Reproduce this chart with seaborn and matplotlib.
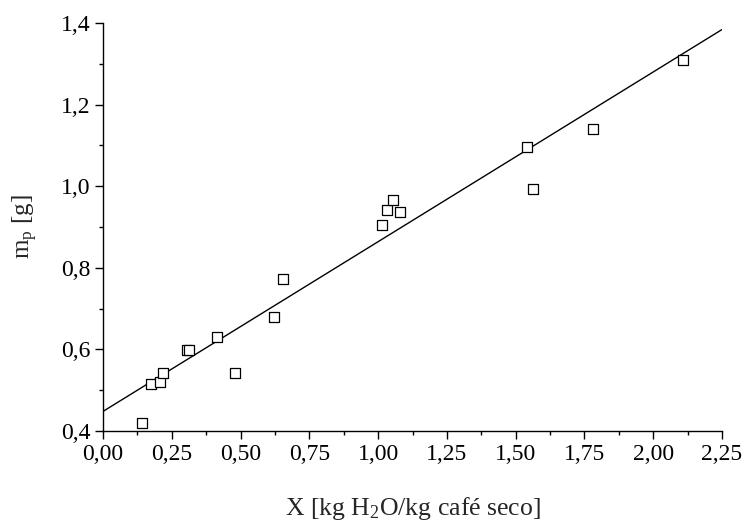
import matplotlib
matplotlib.use("Agg")
import matplotlib.pyplot as plt
from matplotlib.ticker import MultipleLocator, FuncFormatter
import seaborn as sns
import pandas as pd

# Data
x_moisture = [0.143, 0.173, 0.209, 0.219, 0.305, 0.311, 0.413, 0.478, 0.622, 0.655,
              1.014, 1.033, 1.054, 1.080, 1.541, 1.564, 1.780, 2.110]
m_p = [0.420, 0.515, 0.521, 0.543, 0.599, 0.599, 0.631, 0.542, 0.680, 0.772,
       0.904, 0.942, 0.967, 0.936, 1.095, 0.994, 1.139, 1.310]
fit_x = [0.0, 2.25]
fit_y = [0.448, 1.384]

x_ticks = [0.0, 0.25, 0.5, 0.75, 1.0, 1.25, 1.5, 1.75, 2.0, 2.25]
y_ticks = [0.4, 0.6, 0.8, 1.0, 1.2, 1.4]

df = pd.DataFrame({"x": x_moisture, "m": m_p})
fit_df = pd.DataFrame({"x": fit_x, "m": fit_y})

sns.set_style("ticks")
plt.rcParams["font.family"] = ["Liberation Serif", "DejaVu Serif"]
plt.rcParams["mathtext.fontset"] = "custom"
plt.rcParams["mathtext.rm"] = "Liberation Serif"
plt.rcParams["mathtext.it"] = "Liberation Serif"

fig = plt.figure(figsize=(7.45, 5.24), dpi=100)
ax = fig.add_axes([103 / 745, 1 - 431 / 524, (722 - 103) / 745, (431 - 23) / 524])

sns.lineplot(data=fit_df, x="x", y="m", ax=ax, color="black", linewidth=1.0)
sns.scatterplot(data=df, x="x", y="m", ax=ax, marker="s", s=48,
                facecolor="white", edgecolor="black", linewidth=0.9, zorder=3)

ax.set_xlim(0, 2.25)
ax.set_ylim(0.4, 1.4)
ax.set_xticks(x_ticks)
ax.set_yticks(y_ticks)
ax.xaxis.set_minor_locator(MultipleLocator(0.125))
ax.yaxis.set_minor_locator(MultipleLocator(0.1))
ax.xaxis.set_major_formatter(FuncFormatter(lambda v, p: f"{v:.2f}".replace(".", ",")))
ax.yaxis.set_major_formatter(FuncFormatter(lambda v, p: f"{v:.1f}".replace(".", ",")))
ax.tick_params(which="major", direction="out", length=6, width=1, labelsize=17, colors="black", pad=3)
ax.tick_params(which="minor", direction="out", length=3, width=1, colors="black")

sns.despine(ax=ax)
for s in ["left", "bottom"]:
    ax.spines[s].set_color("black")
    ax.spines[s].set_linewidth(1.0)

ax.set_xlabel(r"X [kg H$_2$O/kg café seco]", fontsize=18.5, labelpad=22)
ax.set_ylabel(r"m$_\mathrm{p}$ [g]", fontsize=18, labelpad=15)

fig.savefig("out.png", dpi=100)
